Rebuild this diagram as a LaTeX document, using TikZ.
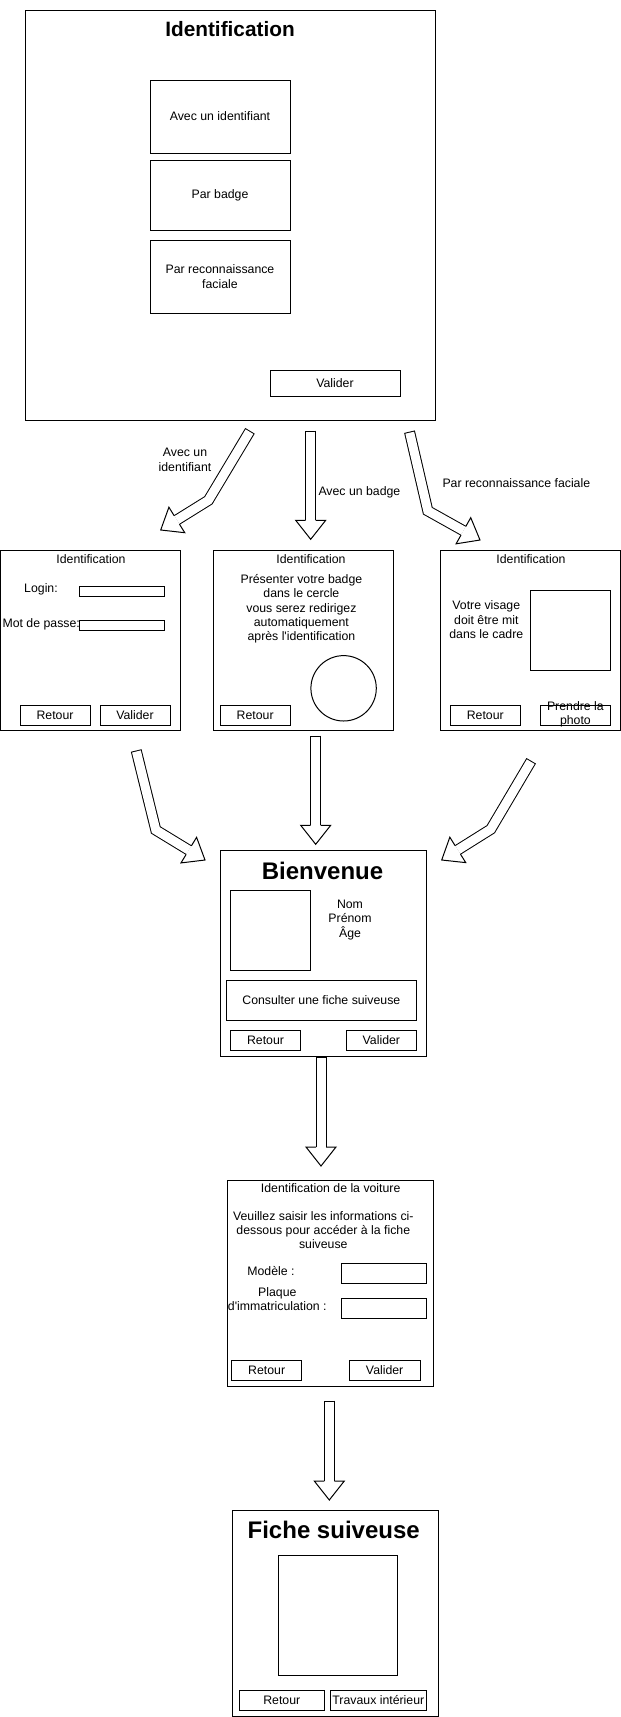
\documentclass[tikz,border=0pt]{standalone}
\usepackage{fontspec}
\setmainfont{Liberation Sans}
\usetikzlibrary{positioning,calc}
\newcommand{\normaltxt}{\fontsize{12.3}{14.4}\selectfont}
\pgfmathsetmacro{\shaftw}{10}
\pgfmathsetmacro{\shafthalf}{\shaftw/2}
\pgfmathsetmacro{\shaftout}{\shaftw+1}
\pgfmathsetmacro{\shaftin}{\shaftw-1}
\pgfmathsetmacro{\headhalf}{15}
\pgfmathsetmacro{\headlen}{19}
\tikzset{
  screen/.style={draw, anchor=north west, inner sep=0pt, outer sep=0pt},
  btn/.style={screen, minimum width=70pt, minimum height=20pt, font=\normaltxt},
  txt/.style={font=\normaltxt, inner sep=0pt, align=center},
  scrtitle/.style={font=\fontsize{#1}{#1}\selectfont\bfseries, inner sep=0pt},
}
% hollow block arrow: path before the head, last point before the tip, tip
\newcommand{\flowarrow}[3]{%
  \path ($(#3)!\headlen pt!(#2)$) coordinate (headbase);
  \draw[line width=\shaftout pt] #1 -- (headbase);
  \draw[white, line width=\shaftin pt, shorten <=1pt] #1 -- (headbase);
  \draw[fill=white] ($(headbase)!\shafthalf pt!90:(#3)$) -- ($(headbase)!\headhalf pt!90:(#3)$)
    -- (#3) -- ($(headbase)!\headhalf pt!-90:(#3)$) -- ($(headbase)!\shafthalf pt!-90:(#3)$);
}

\begin{document}
\begin{tikzpicture}[x=1pt, y=-1pt, line width=1pt]
    \useasboundingbox (0,0) rectangle (621,1717);
    % main identification screen
    \node[screen, minimum width=410pt, minimum height=410pt] (mainscr) at (25,10) {};
    \node[scrtitle=20.8] (maintitle) at (230,29) {Identification};
    \node[screen, minimum width=140pt, minimum height=73pt, font=\normaltxt] (optid) at (150,80) {Avec un identifiant};
    \node[screen, minimum width=140pt, minimum height=70pt, font=\normaltxt, below=7pt of optid] (optbadge) {Par badge};
    \node[screen, minimum width=140pt, minimum height=73pt, txt, below=10pt of optbadge] (optface) {Par reconnaissance\\faciale};
    \node[btn, minimum width=130pt, minimum height=26pt] (mainok) at (270,370) {Valider};
    % arrows to the three methods
    \coordinate (idtail) at (250,430.8);
    \coordinate (idbend) at (208.4,500.3);
    \coordinate (idtip) at (160.7,530);
    \coordinate (badgetail) at (310.7,430.7);
    \coordinate (badgetip) at (310.7,539.3);
    \coordinate (facetail) at (409.5,431.7);
    \coordinate (facebend) at (427.8,510.8);
    \coordinate (facetip) at (480,540);
    \flowarrow{(idtail) -- (idbend)}{idbend}{idtip}
    \flowarrow{(badgetail)}{badgetail}{badgetip}
    \flowarrow{(facetail) -- (facebend)}{facebend}{facetip}
    \node[txt] (lblid) at (185,460) {Avec un\\identifiant};
    \node[txt, anchor=west] (lblbadge) at (318,492.7) {Avec un badge};
    \node[txt, anchor=west] (lblface) at (442,482.7) {Par reconnaissance faciale};
    % login screen
    \node[screen, minimum width=180pt, minimum height=179.5pt] (loginscr) at (0.5,550.5) {};
    \node[txt] (logintitle) at (91,559) {Identification};
    \node[txt] (loginlbl) at (41,589) {Login:};
    \node[screen, minimum width=85pt, minimum height=10pt] (loginfield) at (79,586) {};
    \node[txt] (pwdlbl) at (41.2,624) {Mot de passe:};
    \node[screen, minimum width=85pt, minimum height=10pt] (pwdfield) at (79,620.5) {};
    \node[btn] (loginback) at (20,705.3) {Retour};
    \node[btn, right=10pt of loginback] (loginok) {Valider};
    % badge screen
    \node[screen, minimum width=180pt, minimum height=179.5pt] (badgescr) at (213.5,550.5) {};
    \node[txt] (badgetitle) at (311,559) {Identification};
    \node[txt] (badgehint) at (301.4,608.8) {Présenter votre badge\\dans le cercle\\vous serez redirigez\\automatiquement\\après l\textquotesingle identification};
    \node[draw, circle, minimum size=65.4pt, inner sep=0pt] (badgecircle) at (343.6,688.3) {};
    \node[btn] (badgeback) at (220.2,705.3) {Retour};
    % face screen
    \node[screen, minimum width=180pt, minimum height=179.5pt] (facescr) at (440,550.5) {};
    \node[txt] (facetitle) at (531,559) {Identification};
    \node[txt] (facehint) at (486.3,619.7) {Votre visage\\doit être mit\\dans le cadre};
    \node[screen, minimum size=80pt] (faceframe) at (530.3,590.3) {};
    \node[btn] (faceback) at (450.3,705.3) {Retour};
    \node[btn] (faceshot) at (540.2,705.3) {};
    \node[txt] (faceshotlbl) at (575.4,714.2) {Prendre la\\photo};
    % arrows to the welcome screen
    \coordinate (logintail) at (136.2,750.5);
    \coordinate (loginbend) at (155.8,830);
    \coordinate (logintip) at (205,860);
    \coordinate (badgeouttail) at (315.7,735.7);
    \coordinate (badgeouttip) at (315.7,844.3);
    \coordinate (faceouttail) at (531.2,760.8);
    \coordinate (faceoutbend) at (490.8,829.2);
    \coordinate (faceouttip) at (441.7,860);
    \flowarrow{(logintail) -- (loginbend)}{loginbend}{logintip}
    \flowarrow{(badgeouttail)}{badgeouttail}{badgeouttip}
    \flowarrow{(faceouttail) -- (faceoutbend)}{faceoutbend}{faceouttip}
    % welcome screen
    \node[screen, minimum width=206pt, minimum height=205.5pt] (homescr) at (220.5,850.5) {};
    \node[scrtitle=24] (hometitle) at (322.5,870.7) {Bienvenue};
    \node[screen, minimum size=80pt] (homephoto) at (230,890.3) {};
    \node[txt] (homeinfo) at (350,920) {Nom\\Prénom\\Âge};
    \node[screen, minimum width=190.7pt, minimum height=40pt, font=\normaltxt] (homesheet) at (226,980) {Consulter une fiche suiveuse};
    \node[btn, minimum width=70.4pt] (homeback) at (230.3,1030) {Retour};
    \node[btn, minimum width=70.7pt] (homeok) at (346,1030) {Valider};
    \coordinate (hometail) at (321,1057);
    \coordinate (hometip) at (321,1166);
    \flowarrow{(hometail)}{hometail}{hometip}
    % car screen
    \node[screen, minimum width=206.4pt, minimum height=206.7pt] (carscr) at (227.3,1180) {};
    \node[txt] (cartitle) at (330.7,1188.3) {Identification de la voiture};
    \node[txt] (carhint) at (323.3,1230) {Veuillez saisir les informations ci-\\dessous pour accéder à la fiche\\suiveuse};
    \node[txt] (modellbl) at (271,1271) {Modèle :};
    \node[screen, minimum width=85pt, minimum height=20pt] (modelfield) at (341.7,1263.3) {};
    \node[txt] (platelbl) at (277.3,1299.3) {Plaque\\d\textquotesingle immatriculation :};
    \node[screen, minimum width=85pt, minimum height=20pt] (platefield) at (341.7,1298.3) {};
    \node[btn] (carback) at (231.7,1360) {Retour};
    \node[btn, minimum width=70.7pt] (carok) at (349.3,1360) {Valider};
    \coordinate (cartail) at (329.3,1400.7);
    \coordinate (cartip) at (329.3,1500);
    \flowarrow{(cartail)}{cartail}{cartip}
    % sheet screen
    \node[screen, minimum width=206.4pt, minimum height=206pt] (sheetscr) at (232.3,1510) {};
    \node[scrtitle=24] (sheettitle) at (333.7,1530) {Fiche suiveuse};
    \node[screen, minimum width=119pt, minimum height=119.3pt] (sheetview) at (278.3,1555.7) {};
    \node[btn, minimum width=85pt] (sheetback) at (239.3,1690) {Retour};
    \node[btn, minimum width=96.7pt] (sheetwork) at (330,1690) {Travaux intérieur};
\end{tikzpicture}
\end{document}
